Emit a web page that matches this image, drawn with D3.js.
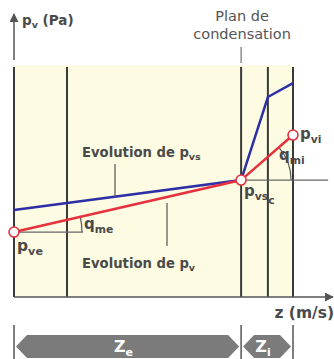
<!DOCTYPE html>
<html>
<head>
<meta charset="utf-8">
<script src="https://cdn.jsdelivr.net/npm/d3@7"></script>
<style>
  body { margin: 0; background: #fff; }
  svg { display: block; font-family: "DejaVu Sans", Verdana, sans-serif; }
</style>
</head>
<body>
<svg id="chart" width="334" height="359"></svg>
<script>
// --- data (z as fraction of wall thickness, p as % of plotted range)
const layerBounds = [0, 0.19, 0.814, 0.91, 1]
const condensZ = 0.814
const pvsZ = [0, 0.814, 0.91, 1]
const pvsVals = [37.5, 50.4, 86.2, 92.2]
const pvZ = [0, 0.814, 1]
const pvVals = [28, 50.4, 69.8]
const zones = [
  { name: "Z", sub: "e", from: 0, to: 0.814 },
  { name: "Z", sub: "i", from: 0.814, to: 1 }
]

const svg = d3.select("#chart")
const x = d3.scaleLinear().domain([0, 1]).range([14, 293])
const y = d3.scaleLinear().domain([0, 100]).range([297, 65])

const red = "#e6323e", blue = "#2d2fa6", gray = "#555", txt = "#4a4a4a"

// background
svg.append("rect")
  .attr("x", x(0)).attr("y", y(100))
  .attr("width", x(1) - x(0)).attr("height", y(0) - y(100))
  .attr("fill", "#fdfbe2")

// layer boundaries
svg.selectAll(".layer").data(layerBounds).join("line")
  .attr("x1", d => x(d)).attr("x2", d => x(d))
  .attr("y1", y(100) + 2).attr("y2", y(0))
  .attr("stroke", "#3a3a3a").attr("stroke-width", 2)

// axes
const defs = svg.append("defs")
defs.append("marker").attr("id", "arr")
  .attr("viewBox", "0 0 10 10").attr("refX", 9).attr("refY", 5)
  .attr("markerWidth", 6).attr("markerHeight", 6).attr("orient", "auto")
  .append("path").attr("d", "M0,0L10,5L0,10z").attr("fill", gray)

svg.append("line")
  .attr("x1", x(0)).attr("x2", 333).attr("y1", y(0)).attr("y2", y(0))
  .attr("stroke", gray).attr("stroke-width", 1.5).attr("marker-end", "url(#arr)")
svg.append("line")
  .attr("x1", x(0)).attr("x2", x(0)).attr("y1", 60).attr("y2", 14)
  .attr("stroke", gray).attr("stroke-width", 1.5).attr("marker-end", "url(#arr)")

const yLab = svg.append("text").attr("x", 22).attr("y", 25)
  .attr("fill", txt).attr("font-weight", "bold").attr("font-size", 13.5)
yLab.append("tspan").text("p")
yLab.append("tspan").attr("dy", 3).attr("font-size", 9.5).text("v")
yLab.append("tspan").attr("dy", -3).text(" (Pa)")

svg.append("text").attr("x", 334).attr("y", 318).attr("text-anchor", "end")
  .attr("fill", txt).attr("font-weight", "bold").attr("font-size", 15.5)
  .text("z (m/s)")

// condensation plane label
svg.append("text").attr("x", x(condensZ) + 1).attr("y", 21).attr("text-anchor", "middle")
  .attr("fill", gray).attr("font-size", 14.5)
  .selectAll("tspan").data(["Plan de", "condensation"]).join("tspan")
  .attr("x", x(condensZ) + 1).attr("dy", (d, i) => i ? 18 : 0).text(d => d)
svg.append("line")
  .attr("x1", x(condensZ)).attr("x2", x(condensZ)).attr("y1", 47).attr("y2", 63)
  .attr("stroke", gray).attr("stroke-width", 1)

// reference horizontals and angle arcs
function angleMark(z0, p0, z1, p1, len, r) {
  const cx = x(z0), cy = y(p0)
  svg.append("line").attr("x1", cx).attr("x2", cx + len).attr("y1", cy).attr("y2", cy)
    .attr("stroke", "#666").attr("stroke-width", 1.2)
  const a = Math.atan2(y(p1) - cy, x(z1) - cx)
  const p = d3.path()
  p.moveTo(cx + r, cy)
  p.arc(cx, cy, r, 0, a, true)
  svg.append("path").attr("d", p.toString()).attr("fill", "none")
    .attr("stroke", "#555").attr("stroke-width", 1.2)
}
angleMark(pvZ[0], pvVals[0], pvZ[1], pvVals[1], 69, 68)
angleMark(pvZ[1], pvVals[1], pvZ[2], pvVals[2], 87, 50)

// curves
const line = d3.line().x(d => x(d[0])).y(d => y(d[1]))
svg.append("path").datum(d3.zip(pvsZ, pvsVals)).attr("d", line)
  .attr("fill", "none").attr("stroke", blue).attr("stroke-width", 2.5)
svg.append("path").datum(d3.zip(pvZ, pvVals)).attr("d", line)
  .attr("fill", "none").attr("stroke", red).attr("stroke-width", 2.5)

svg.selectAll(".pt").data(d3.zip(pvZ, pvVals)).join("circle")
  .attr("cx", d => x(d[0])).attr("cy", d => y(d[1])).attr("r", 5)
  .attr("fill", "#fff").attr("stroke", red).attr("stroke-width", 1.6)

// labels with subscripts
function subLabel(px, py, main, sub, size, extra) {
  const t = svg.append("text").attr("x", px).attr("y", py)
    .attr("fill", txt).attr("font-weight", "bold").attr("font-size", size)
  t.append("tspan").text(main)
  t.append("tspan").attr("dy", size * 0.25).attr("font-size", size * 0.72).text(sub)
  if (extra) t.append("tspan").attr("dy", size * 0.3).attr("font-size", size * 0.72).text(extra)
  return t
}
subLabel(17, 251, "p", "ve", 15.5)
subLabel(244, 196, "p", "vs", 15, "c")
subLabel(300, 139, "p", "vi", 15)
subLabel(84, 229, "q", "me", 15)
subLabel(279, 160, "q", "mi", 15)
subLabel(82, 157, "Evolution de p", "vs", 13.2)
subLabel(82, 268, "Evolution de p", "v", 13.2)

// pointer lines
svg.append("line").attr("x1", 115).attr("x2", 115).attr("y1", 164).attr("y2", y(pvsVals[0]) - (115 - x(0)) / (x(pvsZ[1]) - x(0)) * (y(pvsVals[0]) - y(pvsVals[1])))
  .attr("stroke", gray).attr("stroke-width", 1.2)
svg.append("line").attr("x1", 167).attr("x2", 167).attr("y1", 203).attr("y2", 246)
  .attr("stroke", gray).attr("stroke-width", 1.2)

// zone arrows at the bottom
const zTop = 335, zBot = 358, zMid = (zTop + zBot) / 2
svg.selectAll(".zone").data(zones).join("polygon")
  .attr("points", d => {
    const a = x(d.from) + 2, b = x(d.to) - 2
    return [[a, zMid], [a + 11, zTop], [b - 11, zTop], [b, zMid], [b - 11, zBot], [a + 11, zBot]].join(" ")
  })
  .attr("fill", "#7b7b7b")
zones.forEach(d => {
  const t = svg.append("text").attr("x", (x(d.from) + x(d.to)) / 2 - 4).attr("y", 352)
    .attr("text-anchor", "middle").attr("fill", "#fff").attr("font-weight", "bold").attr("font-size", 16)
  t.append("tspan").text(d.name)
  t.append("tspan").attr("dy", 4).attr("font-size", 11).text(d.sub)
})
svg.selectAll(".ztick").data([0, condensZ, 1]).join("line")
  .attr("x1", d => x(d)).attr("x2", d => x(d)).attr("y1", 325).attr("y2", 359)
  .attr("stroke", "#555").attr("stroke-width", 1.5)
</script>
</body>
</html>
